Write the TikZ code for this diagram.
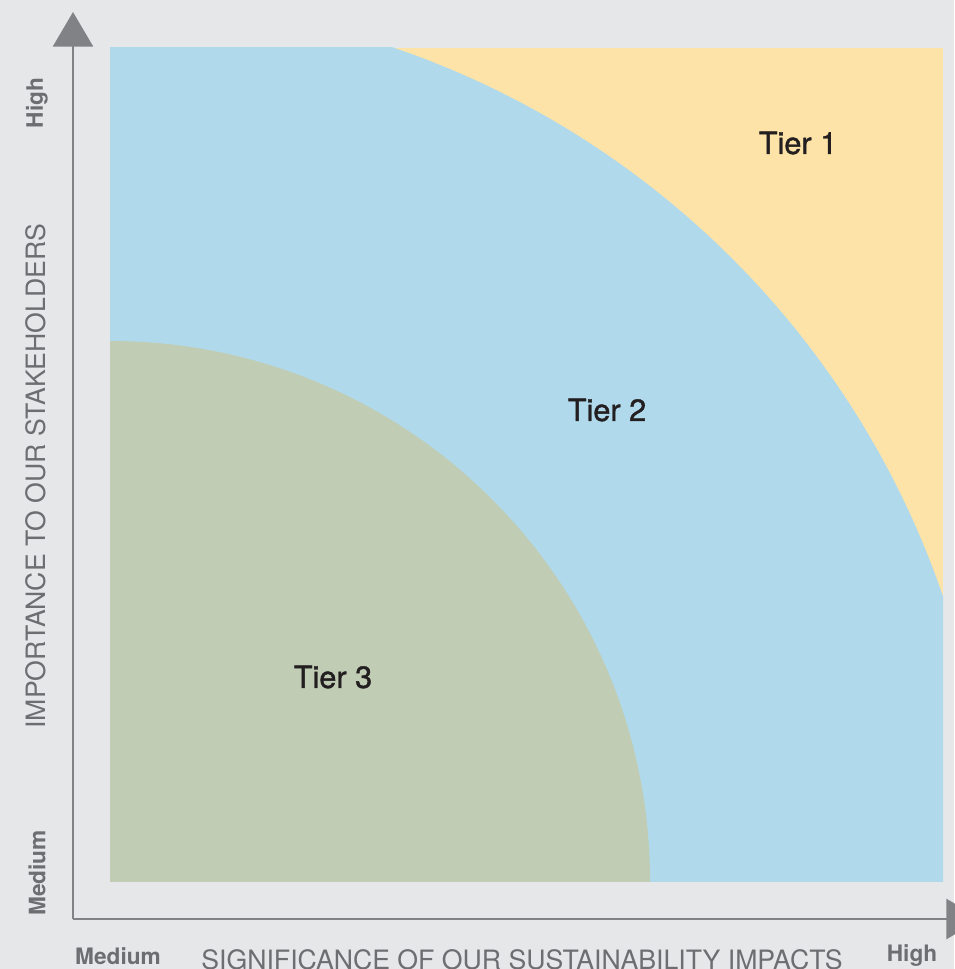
\documentclass[tikz,border=0pt]{standalone}
\usepackage{fontspec}
\setmainfont{TeX Gyre Heros}
\newfontfamily\tiermedium[FakeBold=1.2]{TeX Gyre Heros}
\usetikzlibrary{arrows.meta}

\definecolor{bggray}{RGB}{230,231,232}
\definecolor{tieryellow}{RGB}{253,227,167}
\definecolor{tierblue}{RGB}{176,218,236}
\definecolor{tiergreen}{RGB}{192,204,180}
\definecolor{axisgray}{RGB}{128,130,133}
\definecolor{labelgray}{RGB}{109,110,113}
\definecolor{tiertext}{RGB}{35,31,32}

\tikzset{every picture/.style={line width=0.75pt}}
\tikzset{
	tierlabel/.style={text=tiertext, font=\tiermedium\fontsize{23}{27}\selectfont, inner sep=0pt},
	levellabel/.style={text=labelgray, font=\fontsize{17}{20}\selectfont\bfseries, inner sep=0pt},
	axistitle/.style={text=labelgray, font=\fontsize{20}{24}\selectfont, inner sep=0pt},
	axisline/.style={draw=axisgray, line width=2pt, -{Triangle[length=26pt,width=30pt]}}
}

\begin{document}
\begin{tikzpicture}[x=0.75pt,y=0.75pt,yscale=-1,xscale=1]
	%Background [id:bg]
	\fill[bggray] (0,0) rectangle (954,969);
	\useasboundingbox (0,0) rectangle (954,969);

	%Shape: Square, tier 1 [id:tier1]
	\fill[tieryellow] (110,48) rectangle (943,881);
	\begin{scope}
		\clip (110,48) rectangle (943,881);
		%Shape: Quarter Circle, tier 2 [id:tier2]
		\fill[tierblue] (110,881) circle [radius=880];
		%Shape: Quarter Circle, tier 3 [id:tier3]
		\fill[tiergreen] (110,881) circle [radius=540];
	\end{scope}

	%Axes
	\coordinate (origin) at (73,919);
	\coordinate (ytip) at (73,12);
	\coordinate (xtip) at (981,919);
	\draw[axisline] (origin) -- (ytip);
	\draw[axisline] (origin) -- (xtip);

	% Text Node
	\node[tierlabel] (tierone) at (798,143) {Tier 1};
	% Text Node
	\node[tierlabel] (tiertwo) at (607,410) {Tier 2};
	% Text Node
	\node[tierlabel] (tierthree) at (333,677) {Tier 3};

	% Text Node
	\node[levellabel, rotate=90] (yhigh) at (37,103) {High};
	% Text Node
	\node[levellabel, rotate=90] (ymedium) at (37,873) {Medium};
	% Text Node
	\node[levellabel] (xmedium) at (118,956) {Medium};
	% Text Node
	\node[levellabel] (xhigh) at (912,956) {High};

	% Text Node
	\node[axistitle, rotate=90] (ytitle) at (36,476) {IMPORTANCE TO OUR STAKEHOLDERS};
	% Text Node
	\node[axistitle, anchor=base] (xtitle) at (522,969) {SIGNIFICANCE OF OUR SUSTAINABILITY IMPACTS};
\end{tikzpicture}
\end{document}
